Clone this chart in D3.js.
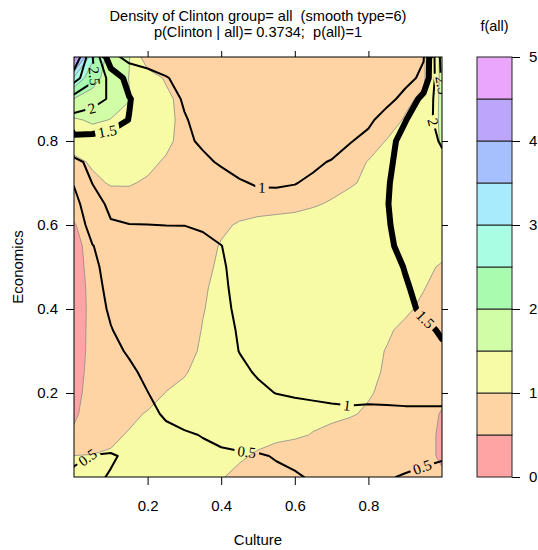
<!DOCTYPE html>
<html><head><meta charset="utf-8">
<script src="https://cdn.jsdelivr.net/npm/d3@7"></script>
<style>body{margin:0;background:#fff}</style>
</head><body>
<svg id="c" width="538" height="550"></svg>
<script>
// ---------- data ----------
const titleLines = ["Density of Clinton group= all  (smooth type=6)", "p(Clinton | all)= 0.3734;  p(all)=1"];
const xTicks = [0.2, 0.4, 0.6, 0.8];
const yTicks = [0.2, 0.4, 0.6, 0.8];
const fillLevels = [0, 0.5, 1, 1.5, 2, 2.5, 3, 3.5, 4, 4.5, 5];
const fillColors = ["#FFA4A4","#FFD4A4","#F8FBA6","#D0FDA6","#A8FBAF","#A8FDE2","#A8EBFD","#A6BFFD","#BCA6FB","#E9A6FB"];
const colorbarTicks = [0, 1, 2, 3, 4, 5];
const lineLevels = [0.5, 1, 1.5, 2, 2.5, 3, 3.5, 4];
const thickLevel = 1.5;
// density grids: rows from Economics=1 (top) down to 0, columns Culture 0..1 step 0.05
const fillGrid = [
[4.9,2.6,1.75,1.52,0.7,0.7,0.72,0.75,0.77,0.78,0.8,0.8,0.8,0.8,0.8,0.8,0.82,0.85,0.9,0.95,1.6],
[2.9,2.2,1.75,1.49,1.22,0.95,0.8,0.78,0.78,0.78,0.8,0.8,0.8,0.8,0.8,0.8,0.82,0.85,0.9,0.95,1.6],
[1.98,1.8,1.65,1.52,1.3,1.1,0.85,0.8,0.8,0.8,0.8,0.8,0.8,0.8,0.8,0.82,0.85,0.9,0.95,1.05,1.6],
[1.45,1.55,1.49,1.35,1.2,1.1,0.9,0.82,0.8,0.8,0.8,0.8,0.8,0.8,0.82,0.84,0.87,0.9,1.02,1.1,1.6],
[1.2,1.3,1.3,1.25,1.2,1.1,0.85,0.8,0.8,0.8,0.8,0.8,0.8,0.82,0.84,0.87,0.9,1.01,1.1,1.2,1.55],
[0.9,1.05,1.15,1.15,1.1,0.95,0.85,0.82,0.8,0.8,0.8,0.82,0.83,0.85,0.88,0.92,1.01,1.1,1.2,1.25,1.4],
[0.8,0.92,1.03,1.03,0.95,0.85,0.82,0.8,0.8,0.8,0.82,0.83,0.85,0.87,0.9,0.97,1.05,1.15,1.25,1.3,1.3],
[0.62,0.78,0.82,0.84,0.85,0.85,0.85,0.85,0.86,0.87,0.88,0.9,0.92,0.97,1.03,1.1,1.15,1.2,1.3,1.35,1.35],
[0.48,0.65,0.75,0.8,0.82,0.85,0.85,0.88,0.95,1.03,1.08,1.1,1.12,1.15,1.2,1.25,1.3,1.35,1.4,1.4,1.4],
[0.4,0.62,0.72,0.78,0.8,0.82,0.85,0.9,1.02,1.1,1.15,1.2,1.22,1.25,1.28,1.3,1.3,1.3,1.25,1.2,1.1],
[0.38,0.6,0.7,0.75,0.78,0.82,0.86,0.93,1.05,1.12,1.18,1.22,1.25,1.28,1.3,1.3,1.28,1.22,1.15,1.06,0.97],
[0.36,0.58,0.68,0.74,0.78,0.82,0.88,0.97,1.07,1.14,1.2,1.24,1.27,1.28,1.28,1.26,1.22,1.17,1.1,1.01,0.9],
[0.36,0.57,0.67,0.73,0.77,0.82,0.89,0.99,1.07,1.13,1.18,1.22,1.24,1.25,1.24,1.2,1.15,1.1,1.04,0.95,0.88],
[0.37,0.57,0.67,0.73,0.77,0.82,0.9,1.01,1.07,1.12,1.16,1.19,1.2,1.2,1.18,1.14,1.09,1.03,0.95,0.9,0.85],
[0.38,0.57,0.66,0.72,0.76,0.82,0.93,1.03,1.07,1.11,1.13,1.15,1.16,1.15,1.13,1.1,1.06,0.99,0.93,0.88,0.83],
[0.4,0.58,0.66,0.72,0.77,0.87,0.99,1.04,1.07,1.09,1.11,1.12,1.12,1.11,1.09,1.07,1.04,0.98,0.92,0.87,0.8],
[0.42,0.6,0.68,0.75,0.85,1.01,1.03,1.05,1.07,1.08,1.09,1.1,1.1,1.09,1.07,1.05,1.02,0.95,0.88,0.75,0.6],
[0.45,0.65,0.78,0.92,1.03,1.05,1.06,1.07,1.07,1.07,1.07,1.07,1.06,1.05,1.04,1.02,0.97,0.9,0.8,0.65,0.47],
[0.55,0.75,0.93,1.03,1.05,1.06,1.07,1.07,1.06,1.06,1.05,1.04,1.03,0.99,0.95,0.9,0.85,0.78,0.7,0.6,0.45],
[1.01,1.02,1.04,1.05,1.05,1.05,1.05,1.04,1.03,1.02,0.98,0.93,0.88,0.83,0.8,0.76,0.72,0.68,0.64,0.6,0.45],
[1.03,1.04,1.05,1.05,1.05,1.04,1.03,1.02,1.01,0.96,0.92,0.88,0.84,0.8,0.76,0.73,0.7,0.67,0.64,0.6,0.55]
];
const lineGrid = [
[4.0,2.52,1.15,0.85,0.82,0.8,0.8,0.8,0.8,0.8,0.8,0.8,0.8,0.8,0.8,0.8,0.82,0.85,0.9,0.98,2.7],
[3.2,2.6,1.8,1.35,1.15,1.02,0.9,0.82,0.8,0.8,0.8,0.8,0.8,0.8,0.8,0.8,0.82,0.85,0.9,1.07,2.6],
[2.3,2.15,1.95,1.52,1.3,1.12,0.97,0.85,0.82,0.8,0.8,0.8,0.8,0.8,0.8,0.82,0.85,0.9,1.1,1.67,2.3],
[1.85,1.8,1.65,1.49,1.3,1.15,1.02,0.92,0.85,0.82,0.8,0.8,0.8,0.8,0.82,0.85,0.93,1.15,1.48,1.8,2.2],
[1.35,1.35,1.35,1.3,1.25,1.2,1.05,0.96,0.88,0.85,0.82,0.8,0.8,0.8,0.85,0.98,1.1,1.35,1.65,1.8,2.05],
[0.9,1.1,1.2,1.22,1.22,1.2,1.17,1.05,0.97,0.88,0.85,0.83,0.83,0.95,1.02,1.15,1.3,1.45,1.6,1.75,1.9],
[0.53,1.01,1.2,1.25,1.25,1.22,1.2,1.15,1.1,1.03,0.97,0.97,0.99,1.05,1.15,1.25,1.35,1.48,1.6,1.7,1.8],
[0.35,0.8,1.1,1.2,1.25,1.28,1.28,1.25,1.2,1.15,1.12,1.1,1.12,1.15,1.2,1.3,1.38,1.49,1.6,1.68,1.75],
[0.3,0.62,0.96,0.99,0.995,1.005,1.005,1.04,1.1,1.15,1.18,1.2,1.22,1.25,1.3,1.35,1.4,1.48,1.58,1.65,1.72],
[0.28,0.49,0.62,0.7,0.75,0.8,0.85,0.92,0.995,1.1,1.18,1.22,1.25,1.28,1.32,1.36,1.4,1.46,1.56,1.62,1.68],
[0.28,0.45,0.58,0.65,0.72,0.78,0.84,0.9,0.97,1.08,1.15,1.2,1.24,1.27,1.3,1.33,1.37,1.42,1.51,1.58,1.62],
[0.26,0.42,0.56,0.63,0.7,0.76,0.82,0.89,0.96,1.06,1.12,1.17,1.21,1.24,1.27,1.3,1.33,1.38,1.48,1.56,1.6],
[0.25,0.4,0.53,0.6,0.67,0.74,0.8,0.87,0.95,1.04,1.1,1.14,1.18,1.21,1.24,1.27,1.3,1.35,1.44,1.54,1.6],
[0.22,0.36,0.49,0.58,0.65,0.72,0.79,0.86,0.93,1.02,1.07,1.1,1.13,1.16,1.19,1.22,1.25,1.3,1.36,1.44,1.53],
[0.2,0.32,0.43,0.53,0.61,0.69,0.77,0.85,0.92,1.005,1.05,1.08,1.1,1.12,1.14,1.17,1.2,1.24,1.3,1.38,1.46],
[0.18,0.28,0.37,0.45,0.56,0.64,0.73,0.82,0.9,0.96,1.02,1.05,1.07,1.08,1.1,1.12,1.14,1.17,1.21,1.27,1.33],
[0.17,0.26,0.34,0.42,0.495,0.6,0.68,0.76,0.84,0.9,0.96,1.005,1.03,1.04,1.05,1.06,1.07,1.08,1.1,1.1,1.1],
[0.2,0.26,0.32,0.38,0.44,0.53,0.6,0.66,0.72,0.77,0.82,0.86,0.9,0.93,0.95,0.96,0.94,0.94,0.94,0.94,0.94],
[0.3,0.3,0.32,0.36,0.4,0.44,0.47,0.51,0.57,0.63,0.68,0.72,0.76,0.79,0.81,0.82,0.82,0.81,0.8,0.78,0.76],
[0.45,0.51,0.53,0.45,0.42,0.42,0.43,0.44,0.45,0.46,0.47,0.52,0.57,0.62,0.65,0.67,0.68,0.67,0.64,0.58,0.53],
[0.55,0.55,0.48,0.44,0.4,0.38,0.37,0.37,0.38,0.4,0.42,0.44,0.47,0.53,0.57,0.58,0.57,0.53,0.47,0.42,0.4]
];
// contour label anchors (level, Culture, Economics)
const labelLevels = [1, 1, 1.5, 2, 2.5, 1.5, 2, 2.5, 0.5, 0.5, 0.5];
const labelX = [0.511, 0.742, 0.09, 0.052, 0.06, 0.959, 0.975, 0.99, 0.47, 0.038, 0.946];
const labelY = [0.693, 0.171, 0.826, 0.867, 0.955, 0.379, 0.845, 0.92, 0.064, 0.045, 0.024];

// ---------- drawing ----------
const W = 538, H = 550;
const P = {l: 74, r: 442, t: 57, b: 477};
const svg = d3.select("#c");
const sans = "'Liberation Sans', Arial, sans-serif";
const serif = "'Liberation Serif', 'DejaVu Serif', serif";
const x = d3.scaleLinear().domain([0, 1]).range([P.l, P.r]);
const y = d3.scaleLinear().domain([0, 1]).range([P.b, P.t]);
const nx = fillGrid[0].length, ny = fillGrid.length;
const gxToData = g => (g - 0.5) / (nx - 1);
const gyToData = g => 1 - (g - 0.5) / (ny - 1);
const toPx = p => [x(gxToData(p[0])), y(gyToData(p[1]))];
const proj = d3.geoTransform({point(px, py) { const q = toPx([px, py]); this.stream.point(q[0], q[1]); }});
const path = d3.geoPath(proj);

const defs = svg.append("defs");
defs.append("clipPath").attr("id", "plotclip").append("rect")
  .attr("x", P.l).attr("y", P.t).attr("width", P.r - P.l).attr("height", P.b - P.t);
const mask = defs.append("mask").attr("id", "lblmask").attr("maskUnits", "userSpaceOnUse")
  .attr("x", 0).attr("y", 0).attr("width", W).attr("height", H);
mask.append("rect").attr("width", W).attr("height", H).attr("fill", "white");

// filled contours
const fillContours = d3.contours().size([nx, ny]).thresholds(fillLevels.slice(0, -1))(fillGrid.flat());
svg.append("g").attr("clip-path", "url(#plotclip)")
  .selectAll("path").data(fillContours).join("path")
  .attr("d", path)
  .attr("fill", (d, i) => fillColors[i])
  .attr("stroke", "#8a8a8a").attr("stroke-width", 0.8);

// line contours
const lineContours = d3.contours().size([nx, ny]).thresholds(lineLevels)(lineGrid.flat());
const lineG = svg.append("g").attr("clip-path", "url(#plotclip)").append("g").attr("mask", "url(#lblmask)");
lineG.selectAll("path").data(lineContours).join("path")
  .attr("d", path)
  .attr("fill", "none").attr("stroke", "#000")
  .attr("stroke-width", d => d.value === thickLevel ? 6 : 2)
  .attr("stroke-linejoin", "round").attr("stroke-linecap", "round");

// labels
const labelG = svg.append("g").attr("clip-path", "url(#plotclip)");
labelLevels.forEach((lev, k) => {
  const c = lineContours.find(d => Math.abs(d.value - lev) < 1e-9);
  if (!c) return;
  const tx = x(labelX[k]), ty = y(labelY[k]);
  let best = null;
  c.coordinates.forEach(poly => poly.forEach(ring => {
    const pts = ring.map(toPx);
    for (let i = 0; i < pts.length - 1; i++) {
      const a = pts[i], b = pts[i + 1];
      const inside = p => p[0] >= P.l - 1 && p[0] <= P.r + 1 && p[1] >= P.t - 1 && p[1] <= P.b + 1;
      if (!inside(a) || !inside(b)) continue;
      const dx = b[0] - a[0], dy = b[1] - a[1];
      const L2 = dx * dx + dy * dy || 1e-9;
      let t = ((tx - a[0]) * dx + (ty - a[1]) * dy) / L2;
      t = Math.max(0, Math.min(1, t));
      const qx = a[0] + t * dx, qy = a[1] + t * dy;
      const dist = (qx - tx) ** 2 + (qy - ty) ** 2;
      if (!best || dist < best.dist) best = {dist, qx, qy, ang: Math.atan2(dy, dx) * 180 / Math.PI};
    }
  }));
  if (!best) return;
  let ang = best.ang;
  if (ang > 90) ang -= 180;
  if (ang < -90) ang += 180;
  const tf = `translate(${best.qx},${best.qy}) rotate(${ang})`;
  const t = labelG.append("text").attr("transform", tf)
    .attr("text-anchor", "middle").attr("dy", "0.35em")
    .attr("font-family", serif).attr("font-size", 15).attr("fill", "#000")
    .text(String(lev));
  const w = t.node().getComputedTextLength() + 6;
  mask.append("rect").attr("transform", tf)
    .attr("x", -w / 2).attr("y", -7).attr("width", w).attr("height", 14).attr("fill", "black");
});

// frame
svg.append("rect").attr("x", P.l).attr("y", P.t).attr("width", P.r - P.l).attr("height", P.b - P.t)
  .attr("fill", "none").attr("stroke", "#000").attr("stroke-width", 1);

// axes
function styleAxis(g) {
  g.select(".domain").remove();
  g.selectAll("line").attr("stroke", "#000");
  g.selectAll("text").attr("font-family", sans).attr("font-size", 15).attr("fill", "#000");
}
svg.append("g").attr("transform", `translate(0,${P.b})`)
  .call(d3.axisBottom(x).tickValues(xTicks).tickSize(8).tickPadding(15).tickFormat(d3.format(".1f"))).call(styleAxis);
svg.append("g").attr("transform", `translate(${P.l},0)`)
  .call(d3.axisLeft(y).tickValues(yTicks).tickSize(8).tickPadding(8).tickFormat(d3.format(".1f"))).call(styleAxis);
svg.append("g").attr("transform", `translate(0,${P.t})`)
  .call(d3.axisTop(x).tickValues(xTicks).tickSize(6).tickFormat("")).call(styleAxis);
svg.append("g").attr("transform", `translate(${P.r},0)`)
  .call(d3.axisRight(y).tickValues(yTicks).tickSize(6).tickFormat("")).call(styleAxis);

// axis titles
svg.append("text").attr("x", (P.l + P.r) / 2).attr("y", 545).attr("text-anchor", "middle")
  .attr("font-family", sans).attr("font-size", 15).text("Culture");
svg.append("text").attr("transform", `translate(23,${(P.t + P.b) / 2}) rotate(-90)`).attr("text-anchor", "middle")
  .attr("font-family", sans).attr("font-size", 15).text("Economics");

// title
titleLines.forEach((s, i) => {
  svg.append("text").attr("x", (P.l + P.r) / 2).attr("y", 21 + i * 16).attr("text-anchor", "middle")
    .attr("font-family", sans).attr("font-size", 14.6).style("white-space", "pre").attr("xml:space", "preserve").text(s);
});

// colorbar
const cb = {l: 477, r: 512};
const cy = d3.scaleLinear().domain([0, 5]).range([P.b, P.t]);
svg.append("g").selectAll("rect").data(fillColors).join("rect")
  .attr("x", cb.l).attr("width", cb.r - cb.l)
  .attr("y", (d, i) => cy(fillLevels[i + 1])).attr("height", (d, i) => cy(fillLevels[i]) - cy(fillLevels[i + 1]))
  .attr("fill", d => d).attr("stroke", "#222").attr("stroke-width", 1);
svg.append("g").attr("transform", `translate(${cb.r},0)`)
  .call(d3.axisRight(cy).tickValues(colorbarTicks).tickSize(8).tickPadding(9).tickFormat(d3.format("d"))).call(styleAxis);
svg.append("text").attr("x", (cb.l + cb.r) / 2).attr("y", 31).attr("text-anchor", "middle")
  .attr("font-family", sans).attr("font-size", 14.5).text("f(all)");
</script>
</body></html>
